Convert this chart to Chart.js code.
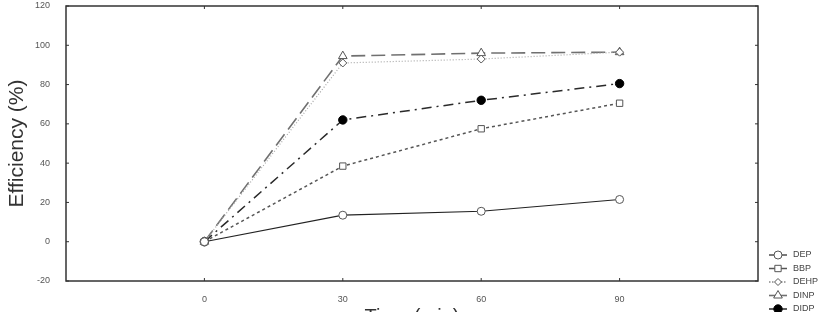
<!DOCTYPE html>
<html>
<head>
<meta charset="utf-8">
<script src="https://cdn.jsdelivr.net/npm/chart.js@4"></script>
<style>
  body { margin: 0; background: #fff; }
  canvas { display: block; }
</style>
</head>
<body>
<canvas id="effChart" width="829" height="312"></canvas>
<script>
// data
const times = [0, 30, 60, 90];
const xTicks = [0, 30, 60, 90];
const yTicks = [-20, 0, 20, 40, 60, 80, 100, 120];
const seriesNames = ["DEP", "BBP", "DEHP", "DINP", "DIDP"];
const dep = [0, 13.5, 15.5, 21.5];
const bbp = [0, 38.5, 57.5, 70.5];
const dehp = [0, 91, 93, 96.5];
const dinp = [0, 94.5, 96, 96.5];
const didp = [0, 62, 72, 80.5];

const toPoints = (vals) => vals.map((v, i) => ({ x: times[i], y: v }));

const styles = [
  { color: "#222", dash: [], width: 1.2, point: "circle", r: 4, fill: "#fff" },
  { color: "#555", dash: [3, 3], width: 1.5, point: "rect", r: 4.5, fill: "#fff" },
  { color: "#a8a8a8", dash: [1, 2], width: 1.2, point: "rectRot", r: 4, fill: "#fff" },
  { color: "#707070", dash: [14, 6], width: 1.6, point: "triangle", r: 5, fill: "#fff" },
  { color: "#2a2a2a", dash: [10, 5, 2, 5], width: 1.5, point: "circle", r: 4.2, fill: "#000" },
];
const values = [dep, bbp, dehp, dinp, didp];

const datasets = seriesNames.map((name, i) => ({
  label: name,
  data: toPoints(values[i]),
  borderColor: styles[i].color,
  borderWidth: styles[i].width,
  borderDash: styles[i].dash,
  pointStyle: styles[i].point,
  pointRadius: styles[i].r,
  pointBackgroundColor: styles[i].fill,
  pointBorderColor: i === 4 ? "#000" : "#555",
  pointBorderWidth: 1,
  tension: 0,
}));

// frame with inward ticks on all four sides
const framePlugin = {
  id: "frame",
  afterDraw(chart) {
    const { ctx, chartArea: a, scales } = chart;
    ctx.save();
    ctx.strokeStyle = "#333";
    ctx.lineWidth = 1.5;
    ctx.strokeRect(a.left, a.top, a.right - a.left, a.bottom - a.top);
    ctx.lineWidth = 1;
    ctx.beginPath();
    xTicks.forEach((t) => {
      const px = scales.x.getPixelForValue(t);
      ctx.moveTo(px, a.bottom); ctx.lineTo(px, a.bottom - 3);
      ctx.moveTo(px, a.top); ctx.lineTo(px, a.top + 3);
    });
    yTicks.forEach((t) => {
      const py = scales.y.getPixelForValue(t);
      ctx.moveTo(a.left, py); ctx.lineTo(a.left + 3, py);
      ctx.moveTo(a.right, py); ctx.lineTo(a.right - 3, py);
    });
    ctx.stroke();

    // legend in the lower right corner
    ctx.font = "9px 'Liberation Sans', Arial, sans-serif";
    ctx.textBaseline = "middle";
    chart.data.datasets.forEach((ds, i) => {
      const y = 255 + i * 13.5;
      ctx.strokeStyle = i === 2 ? "#888" : ds.borderColor;
      ctx.lineWidth = i === 2 ? 1.5 : ds.borderWidth;
      ctx.setLineDash(i === 2 ? [1.5, 1.5] : []);
      ctx.beginPath();
      ctx.moveTo(769, y); ctx.lineTo(787, y);
      ctx.stroke();
      ctx.setLineDash([]);
      ctx.fillStyle = ds.pointBackgroundColor;
      ctx.strokeStyle = ds.pointBorderColor;
      ctx.lineWidth = 1;
      Chart.helpers.drawPoint(ctx, {
        pointStyle: ds.pointStyle, radius: i === 2 ? 3.5 : ds.pointRadius, rotation: 0, borderWidth: 1,
      }, 778, y);
      ctx.fillStyle = "#444";
      ctx.fillText(ds.label, 793, y);
    });
    ctx.restore();
  },
};

new Chart(document.getElementById("effChart"), {
  type: "line",
  data: { datasets },
  options: {
    responsive: false,
    animation: false,
    layout: { padding: { top: 4, right: 71, left: 0, bottom: 0 } },
    plugins: { legend: { display: false }, tooltip: { enabled: false } },
    scales: {
      x: {
        type: "linear",
        min: -30,
        max: 120,
        afterBuildTicks: (s) => { s.ticks = xTicks.map((v) => ({ value: v })); },
        afterFit: (s) => { s.height = 31; s.paddingLeft = 0; s.paddingRight = 0; },
        grid: { display: false },
        border: { display: false },
        ticks: { color: "#555", font: { size: 9, family: "'Liberation Sans', Arial" }, padding: 5 },
        title: {
          display: true,
          text: "Time (min)",
          color: "#333",
          font: { size: 20, family: "'Liberation Sans', Arial" },
          padding: { top: 0, bottom: -17 },
        },
      },
      y: {
        min: -20,
        max: 120,
        afterBuildTicks: (s) => { s.ticks = yTicks.map((v) => ({ value: v })); },
        afterFit: (s) => { s.width = 66; s.paddingTop = 0; s.paddingBottom = 0; },
        grid: { display: false },
        border: { display: false },
        ticks: { color: "#555", font: { size: 9, family: "'Liberation Sans', Arial" }, padding: 8 },
        title: {
          display: true,
          text: "Efficiency (%)",
          color: "#333",
          font: { size: 21, family: "'Liberation Sans', Arial" },
          padding: { top: 5, bottom: 0 },
        },
      },
    },
  },
  plugins: [framePlugin],
});
</script>
</body>
</html>
